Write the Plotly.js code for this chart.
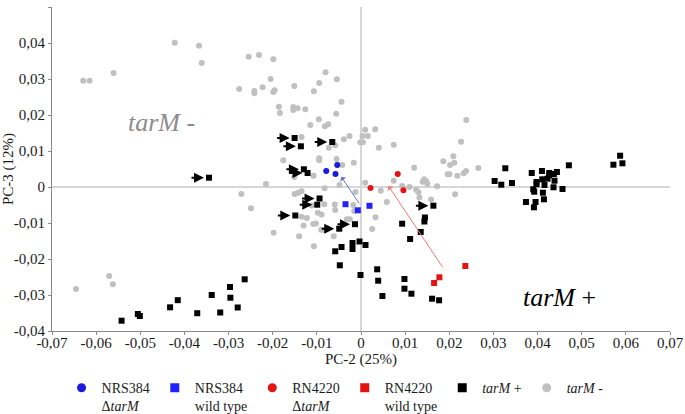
<!DOCTYPE html>
<html>
<head>
<meta charset="utf-8">
<script src="https://cdn.plot.ly/plotly-3.0.1.min.js"></script>
<style>html,body{margin:0;padding:0;background:#fff;}#chart{width:685px;height:414px;}</style>
</head>
<body>
<div id="chart"></div>
<script>
// ---- data (PC-2, PC-3 scores) ----
const tarMMinusX = [-0.04219,-0.03669,-0.03608,-0.05605,-0.06293,-0.06148,-0.02545,-0.02312,-0.01986,-0.0276,-0.02416,-0.02416,-0.02228,-0.01957,-0.01986,-0.02047,-0.01511,-0.00803,-0.00946,-0.00547,-0.01068,-0.00441,-0.01859,-0.01837,-0.01534,-0.01534,-0.01436,-0.01262,-0.00561,-0.00955,-0.01149,-0.00819,-0.00742,0.00095,0.00321,0.02386,0.02267,0.00034,0.00154,-0.00018,0.00041,-0.0026,-0.00389,-0.01346,-0.00728,-0.00584,0.00403,0.00742,-0.0176,-0.00946,-0.00946,-0.00554,-0.00163,-0.00425,-0.01074,-0.01511,-0.02153,-0.00486,0.00095,0.01203,0.01866,0.02092,0.02018,0.02115,0.01963,0.02002,0.02183,0.02325,0.0238,0.02658,0.0143,0.01475,0.01398,0.01504,0.00932,0.01097,-0.00826,-0.0271,-0.01504,-0.01425,-0.01346,-0.00124,0.00448,0.00584,0.00328,0.00253,0.00742,0.01724,0.01249,0.01301,0.02131,0.01588,0.01323,-0.02493,-0.00595,-0.00584,-0.00832,-0.0112,-0.00977,-0.00893,-0.01346,-0.01226,-0.01081,-0.01022,-0.01301,-0.00321,-0.00253,-0.01979,-0.01402,-0.009,-0.00841,-0.00774,-0.00618,-0.01068,-0.00176,-0.00154,-0.06458,-0.05705,-0.05621];
const tarMMinusY = [0.04008,0.03925,0.03444,0.03167,0.02953,0.02953,0.0362,0.03667,0.03547,0.02722,0.02667,0.02603,0.02769,0.02686,0.02639,0.03,0.02806,0.03186,0.02889,0.02992,0.02658,0.0237,0.02231,0.02056,0.02222,0.02139,0.02186,0.02158,0.02036,0.01881,0.01722,0.01686,0.01742,0.01592,0.01603,0.01861,0.01258,0.01417,0.01417,0.01242,0.01242,0.01417,0.01325,0.01389,0.01092,0.01158,0.01092,0.01175,0.00742,0.00797,0.00742,0.00778,0.00675,0.00611,0.00314,0.00278,0.00083,0.00056,0.00119,0.00536,0.00714,0.00853,0.00611,0.00675,0.00353,0.00353,0.00314,0.00381,0.00444,0.00528,0.00214,0.00158,0.00147,0.00092,0.00028,0,-0.00036,-0.00194,-0.00194,-0.00158,-0.00119,-0.00139,-0.00103,-0.00417,-0.00842,-0.01167,0.00175,0.00019,-0.00075,-0.00147,-0.00203,-0.00347,-0.00292,-0.00592,-0.00486,-0.00639,-0.00478,-0.00514,-0.00714,-0.00764,-0.00825,-0.00861,-0.01028,-0.01014,-0.01069,-0.00897,-0.00897,-0.01269,-0.01367,-0.01189,-0.01194,-0.01139,-0.01367,-0.01647,-0.005,-0.00667,-0.02833,-0.02472,-0.02703];

// tarM+ isolates; the first 12 are the ones flagged with an arrow
const tarMPlusX = [-0.03443,-0.01504,-0.01362,-0.00651,-0.01294,-0.0121,-0.00939,-0.00991,-0.01488,-0.00136,-0.00493,0.0164,
  0.03269,0.03027,0.03178,0.0342,0.03868,0.04099,0.04264,0.04264,0.0437,0.04438,0.04225,0.04105,0.03976,0.03976,0.04157,0.04384,0.04361,0.04565,0.03902,0.03924,0.04121,0.04709,0.03737,0.03954,0.04144,0.03918,0.0587,0.05718,0.05922,
  0.01448,0.01436,0.00932,0.01353,0.01113,-0.00034,-0.00192,0.00102,-0.00441,-0.00192,-0.00584,-0.0048,0.00366,0.00984,0.00389,-0.00011,0.00984,0.01142,0.00486,0.0161,0.01769,
  -0.02635,-0.02968,-0.02959,-0.03382,-0.04151,-0.04325,-0.02793,-0.03189,-0.0371,-0.05055,-0.0501,-0.05424];
const tarMPlusY = [0.00258,0.01361,0.01131,0.0125,0.00492,0.00389,-0.00319,-0.00492,-0.00792,-0.01033,-0.01158,-0.00519,
  0.0052,0.00167,0.00064,0.00111,0.00389,0.00444,0.00389,0.00325,0.00361,0.00417,0.00231,0.00214,0.00139,0.00075,0.00056,0.00175,-0.00008,-0.00056,-0.00064,-0.00131,-0.00158,0.00603,-0.00417,-0.00417,-0.00342,-0.00564,0.00869,0.00619,0.00658,
  -0.00847,-0.00958,-0.01019,-0.0125,-0.01444,-0.01514,-0.01556,-0.01611,-0.01667,-0.01722,-0.01786,-0.02175,-0.02286,-0.02556,-0.02603,-0.02444,-0.02825,-0.02964,-0.03028,-0.03103,-0.03147,
  -0.02564,-0.02778,-0.03075,-0.03,-0.03144,-0.03342,-0.03347,-0.03486,-0.03506,-0.03528,-0.03583,-0.03714];
const flaggedIdx = [0,1,2,3,4,5,6,7,8,9,10,11];

const nrsDeltaX = [-0.00538,-0.00787,-0.00577];
const nrsDeltaY = [0.00611,0.00444,0.00361];
const nrsWtX = [-0.00351,-0.00072,0.00192];
const nrsWtY = [-0.00478,-0.00647,-0.00522];
const rnDeltaX = [0.00832,0.00215,0.00961];
const rnDeltaY = [0.00361,-0.00028,-0.00092];
const rnWtX = [0.02364,0.01776,0.01656];
const rnWtY = [-0.02194,-0.02508,-0.02667];

// shift arrows wild type -> ΔtarM  [NRS384, RN4220]
const shiftFromX = [-0.00018, 0.01866];
const shiftFromY = [-0.00500, -0.02258];
const shiftToX = [-0.00448, 0.00622];
const shiftToY = [0.00286, 0.00028];

const xTickVals = [-0.07,-0.06,-0.05,-0.04,-0.03,-0.02,-0.01,0,0.01,0.02,0.03,0.04,0.05,0.06,0.07];
const xTickText = ['-0,07','-0,06','-0,05','-0,04','-0,03','-0,02','-0,01','0','0,01','0,02','0,03','0,04','0,05','0,06','0,07'];
const yTickVals = [-0.04,-0.03,-0.02,-0.01,0,0.01,0.02,0.03,0.04,0.05];
const yTickText = ['-0,04','-0,03','-0,02','-0,01','0','0,01','0,02','0,03','0,04','0,05'];

// ---- styles ----
const SERIF = 'Liberation Serif';
const C_GRAY = '#c0c0c0', C_BLACK = '#000000', C_BLUE = '#1a1adc', C_BLUE_SQ = '#2222ff', C_RED = '#e31414';

const traces = [
  {x: tarMMinusX, y: tarMMinusY, type:'scatter', mode:'markers', showlegend:false,
   marker:{symbol:'circle', size:6, color:C_GRAY}},
  {x: tarMPlusX, y: tarMPlusY, type:'scatter', mode:'markers', showlegend:false,
   marker:{symbol:'square', size:6, color:C_BLACK}},
  {x: nrsDeltaX, y: nrsDeltaY, type:'scatter', mode:'markers', showlegend:false,
   marker:{symbol:'circle', size:6, color:C_BLUE}},
  {x: nrsWtX, y: nrsWtY, type:'scatter', mode:'markers', showlegend:false,
   marker:{symbol:'square', size:6, color:C_BLUE_SQ}},
  {x: rnDeltaX, y: rnDeltaY, type:'scatter', mode:'markers', showlegend:false,
   marker:{symbol:'circle', size:6, color:C_RED}},
  {x: rnWtX, y: rnWtY, type:'scatter', mode:'markers', showlegend:false,
   marker:{symbol:'square', size:6, color:C_RED}}
];
// legend entries
const legendDefs = [
  ['NRS384<br>Δ<i>tarM</i>', 'circle', C_BLUE],
  ['NRS384<br>wild type', 'square', C_BLUE_SQ],
  ['RN4220<br>Δ<i>tarM</i>', 'circle', C_RED],
  ['RN4220<br>wild type', 'square', C_RED],
  ['<i>tarM</i> +', 'square', C_BLACK],
  ['<i>tarM</i> -', 'circle', C_GRAY]
];
legendDefs.forEach(d => traces.push({x:[null], y:[null], type:'scatter', mode:'markers', name:d[0],
  marker:{symbol:d[1], size:9, color:d[2]}}));

const annotations = [];
flaggedIdx.forEach(i => annotations.push({
  x: tarMPlusX[i], y: tarMPlusY[i], xref:'x', yref:'y', text:'', showarrow:true,
  ax:-19, ay:0, arrowhead:2, arrowsize:1.0, arrowwidth:2, arrowcolor:'#000', standoff:5
}));
const shiftColors = ['#7070e0', '#f07a7a'];
shiftFromX.forEach((v,i) => annotations.push({
  x: shiftToX[i], y: shiftToY[i], ax: shiftFromX[i], ay: shiftFromY[i],
  xref:'x', yref:'y', axref:'x', ayref:'y', text:'', showarrow:true,
  arrowhead:1, arrowsize:1.2, arrowwidth:1, arrowcolor: shiftColors[i]
}));
annotations.push({x:-0.0451, y:0.0178, xref:'x', yref:'y', showarrow:false,
  text:'<i>tarM</i> -', font:{family:SERIF, size:26, color:'#8c8c8c'}});
annotations.push({x:0.0449, y:-0.0306, xref:'x', yref:'y', showarrow:false,
  text:'<i>tarM</i> +', font:{family:SERIF, size:26, color:'#000'}});

function axis(range, vals, text, title, labelShift) {
  return {
    range: range, tickmode:'array', tickvals: vals, ticktext: text,
    showgrid:false, zeroline:true, zerolinecolor:'#d6d6d6', zerolinewidth:1.5,
    showline:true, linecolor:'#8a8a8a', linewidth:1, ticks:'outside', ticklen:3, tickcolor:'#8a8a8a',
    ticklabelstandoff: labelShift,
    tickfont:{family:SERIF, size:15, color:'#1a1a1a'}, automargin:false,
    title:{text:title, font:{family:SERIF, size:15, color:'#1a1a1a'}, standoff:3}
  };
}

const layout = {
  width:685, height:414,
  margin:{l:52, r:15, t:7, b:83, autoexpand:false},
  paper_bgcolor:'#fff', plot_bgcolor:'#fff',
  font:{family:SERIF, size:14, color:'#1a1a1a'},
  xaxis: axis([-0.07,0.07], xTickVals, xTickText, 'PC-2 (25%)', -5),
  yaxis: axis([-0.04,0.05], yTickVals, yTickText, 'PC-3 (12%)', 0),
  showlegend:true,
  legend:{orientation:'h', x:0.458, xanchor:'center', y:-0.127, yanchor:'top', valign:'top',
    font:{family:SERIF, size:14, color:'#1a1a1a'}, bgcolor:'rgba(0,0,0,0)'},
  annotations: annotations
};

Plotly.newPlot('chart', traces, layout, {staticPlot:true, displayModeBar:false});
</script>
</body>
</html>
